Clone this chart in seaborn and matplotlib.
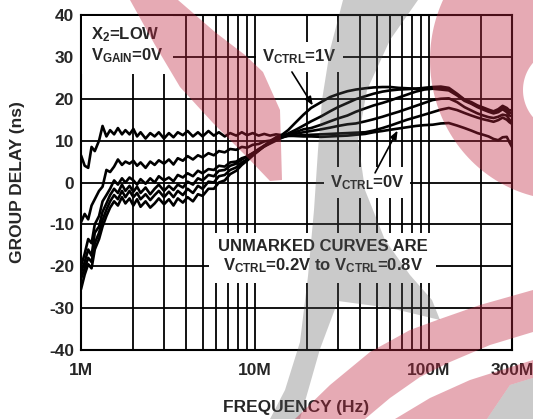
import numpy as np
import pandas as pd
import matplotlib
matplotlib.use("Agg")
import matplotlib.pyplot as plt
import seaborn as sns
from matplotlib.patches import Polygon, PathPatch
from matplotlib.path import Path
from matplotlib.ticker import LogLocator, FixedLocator, NullFormatter

# ---------------- data ----------------
freq_mhz = [1.0, 1.05, 1.1, 1.15, 1.2, 1.27, 1.33, 1.4, 1.47, 1.55,
            1.63, 1.72, 1.8, 1.9, 2.0, 2.1, 2.2, 2.35, 2.5, 2.65,
            2.8, 3.0, 3.2, 3.4, 3.6, 3.85, 4.1, 4.4, 4.7, 5.0,
            5.4, 5.8, 6.2, 6.7, 7.2, 7.8, 8.4, 9.0, 9.7, 10.5,
            11.3, 12.2, 13.2, 14.3, 15.5, 17, 19, 21, 24, 27,
            30, 34, 38, 43, 48, 54, 60, 67, 75, 84,
            94, 105, 117, 130, 145, 160, 175, 190, 205, 220,
            235, 250, 265, 280, 290, 300]

delay_vctrl_0v0 = [6.5, 4.0, 3.5, 8.5, 7.5, 10.0, 13.5, 11.0, 12.5, 11.5,
                   13.0, 11.5, 12.5, 11.5, 12.8, 11.0, 12.0, 10.5, 11.8, 11.0,
                   12.0, 10.5, 11.8, 10.8, 12.0, 11.3, 12.3, 11.0, 12.0, 11.0,
                   12.3, 11.2, 12.0, 11.0, 11.8, 11.2, 12.0, 11.3, 11.8, 11.2,
                   11.6, 11.2, 11.5, 11.3, 11.2, 11.1, 11.0, 11.0, 10.9, 11.0,
                   11.1, 11.2, 11.4, 11.6, 12.0, 12.3, 12.6, 12.9, 13.2, 13.5,
                   13.7, 13.8, 14.1, 14.2, 13.6, 13.0, 12.4, 11.8, 11.4, 11.0,
                   10.4, 10.1, 10.8, 10.9, 9.6, 8.5]

delay_vctrl_0v2 = [-9.5, -7.5, -8.8, -5.5, -4.0, -2.0, -1.0, 3.0, 2.5, 3.8,
                   5.5, 4.2, 5.0, 4.5, 5.2, 4.0, 4.8, 3.5, 5.0, 4.2,
                   5.3, 4.5, 5.5, 4.3, 5.8, 5.2, 6.3, 5.5, 6.5, 6.0,
                   7.0, 6.5, 7.5, 7.2, 8.0, 7.8, 8.5, 8.3, 9.0, 9.2,
                   9.8, 10.0, 10.5, 10.8, 11.1, 11.2, 11.3, 11.4, 11.5, 11.6,
                   11.7, 11.8, 11.9, 12.0, 12.4, 13.0, 13.6, 14.3, 15.0, 15.6,
                   16.2, 16.8, 17.4, 17.8, 17.3, 16.6, 16.0, 15.5, 15.1, 14.8,
                   14.5, 14.9, 15.5, 15.0, 14.4, 14.0]

delay_vctrl_0v4 = [-20.0, -17.0, -13.5, -14.5, -10.0, -8.0, -4.5, -3.0, -1.5, 0.5,
                   -0.5, 1.0, 0.0, 1.2, 0.5, -0.5, 0.8, -0.3, 1.0, 0.0,
                   1.5, 0.5, 1.2, 0.3, 1.8, 1.2, 2.2, 1.5, 2.8, 2.2,
                   3.2, 3.0, 4.0, 3.8, 4.8, 5.0, 5.8, 6.2, 7.0, 7.8,
                   8.6, 9.3, 10.0, 10.7, 11.3, 11.6, 12.0, 12.3, 12.7, 13.1,
                   13.5, 13.9, 14.1, 14.6, 15.1, 15.7, 16.3, 16.9, 17.6, 18.3,
                   19.0, 19.7, 20.0, 20.1, 19.2, 18.0, 17.2, 16.5, 16.0, 15.6,
                   15.4, 15.7, 16.2, 16.0, 15.0, 14.3]

delay_vctrl_0v6 = [-21.5, -19.0, -16.0, -17.5, -12.0, -10.5, -7.0, -5.0, -3.0, -1.5,
                   -2.5, -0.5, -2.0, -0.8, -2.2, -1.0, -2.5, -1.2, -2.8, -1.5,
                   -0.5, -2.0, -0.8, -1.8, -0.5, -1.2, 0.2, -0.5, 1.0, 0.5,
                   1.8, 1.5, 2.8, 3.0, 4.0, 4.5, 5.5, 6.2, 7.0, 8.0,
                   8.8, 9.6, 10.4, 11.0, 11.5, 12.0, 12.7, 13.0, 13.8, 14.6,
                   15.3, 16.0, 16.9, 17.7, 18.4, 19.0, 19.6, 20.3, 21.0, 21.7,
                   22.2, 22.4, 22.2, 22.0, 20.8, 19.5, 18.8, 18.0, 17.4, 16.9,
                   16.5, 16.8, 17.5, 16.8, 16.0, 15.8]

delay_vctrl_0v8 = [-23.0, -20.5, -18.0, -19.0, -14.5, -12.0, -9.0, -6.5, -4.5, -3.0,
                   -4.0, -2.0, -3.5, -2.0, -3.5, -2.5, -4.0, -2.8, -4.2, -3.0,
                   -2.0, -3.5, -2.2, -3.5, -2.0, -3.0, -1.5, -2.5, -0.8, -1.5,
                   0.2, 0.0, 1.5, 1.8, 3.0, 3.6, 4.8, 5.5, 6.6, 7.6,
                   8.6, 9.5, 10.4, 11.1, 11.7, 12.5, 13.6, 14.6, 15.8, 17.0,
                   18.0, 19.0, 19.9, 20.6, 21.2, 21.7, 22.0, 22.2, 22.3, 22.4,
                   22.5, 22.6, 22.5, 22.2, 21.0, 19.7, 19.0, 18.2, 17.7, 17.2,
                   16.8, 17.2, 18.0, 17.3, 16.7, 16.6]

delay_vctrl_1v0 = [-25.5, -22.0, -19.5, -20.5, -16.0, -13.5, -10.5, -8.0, -6.0, -4.5,
                   -5.5, -3.5, -5.0, -3.8, -5.5, -4.0, -5.8, -4.5, -6.0, -5.0,
                   -3.8, -5.2, -4.0, -5.5, -3.8, -4.8, -3.5, -4.5, -2.8, -3.2,
                   -1.5, -1.5, 0.0, 0.5, 2.0, 2.8, 4.2, 5.2, 6.4, 7.6,
                   8.8, 9.8, 10.8, 11.4, 12.5, 14.2, 16.2, 17.8, 19.2, 20.4,
                   21.1, 21.8, 22.2, 22.5, 22.7, 22.8, 22.8, 22.6, 22.5, 22.4,
                   22.6, 22.8, 22.9, 22.6, 21.2, 19.8, 19.2, 18.4, 17.9, 17.4,
                   17.0, 17.5, 18.3, 17.8, 17.2, 17.3]

vctrl_levels = ["0V", "0.2V", "0.4V", "0.6V", "0.8V", "1V"]
x_tick_values = [1e6, 1e7, 1e8, 3e8]
x_tick_labels = ["1M", "10M", "100M", "300M"]
y_tick_values = [-40, -30, -20, -10, 0, 10, 20, 30, 40]

series = [delay_vctrl_0v0, delay_vctrl_0v2, delay_vctrl_0v4,
          delay_vctrl_0v6, delay_vctrl_0v8, delay_vctrl_1v0]
df = pd.concat(
    [pd.DataFrame({"freq": np.array(freq_mhz) * 1e6, "delay": vals, "vctrl": lvl})
     for lvl, vals in zip(vctrl_levels, series)],
    ignore_index=True)

# ---------------- style ----------------
sns.set_style("white")
plt.rcParams["font.family"] = ["Liberation Sans", "DejaVu Sans"]
plt.rcParams["font.weight"] = "bold"
plt.rcParams["mathtext.fontset"] = "custom"
plt.rcParams["mathtext.rm"] = "Liberation Sans:bold"
plt.rcParams["mathtext.it"] = "Liberation Sans:bold"
plt.rcParams["mathtext.bf"] = "Liberation Sans:bold"
plt.rcParams["mathtext.default"] = "rm"

W, H = 533, 419
fig = plt.figure(figsize=(W / 100, H / 100), dpi=100)
ax = fig.add_axes([81 / W, 1 - 350 / H, 431 / W, 335 / H])

sns.lineplot(data=df, x="freq", y="delay", hue="vctrl", hue_order=vctrl_levels,
             palette=["black"] * len(vctrl_levels), estimator=None, sort=False,
             linewidth=1.9, legend=False, ax=ax, zorder=3)

ax.set_xscale("log")
ax.set_xlim(1e6, 3e8)
ax.set_ylim(-40, 40)
ax.xaxis.set_major_locator(FixedLocator(x_tick_values))
ax.set_xticklabels(x_tick_labels)
ax.xaxis.set_minor_locator(LogLocator(base=10, subs=np.arange(2, 10)))
ax.xaxis.set_minor_formatter(NullFormatter())
ax.set_yticks(y_tick_values)
ax.set_yticklabels([str(v) for v in y_tick_values])

ax.set_axisbelow(True)
ax.grid(which="major", axis="both", color="black", linewidth=1.3)
ax.grid(which="minor", axis="x", color="black", linewidth=1.3)
for s in ax.spines.values():
    s.set_color("black")
    s.set_linewidth(1.5)

ax.tick_params(axis="both", which="both", length=0, labelsize=12.5)
ax.tick_params(axis="x", pad=9)
ax.tick_params(axis="y", pad=5)
for lab in ax.get_xticklabels() + ax.get_yticklabels():
    lab.set_fontweight("bold")

ax.set_xlabel("FREQUENCY (Hz)", fontsize=12.5, fontweight="bold")
ax.set_ylabel("GROUP DELAY (ns)", fontsize=12.5, fontweight="bold")
ax.xaxis.set_label_coords(0.5, -0.148)
ax.yaxis.set_label_coords(-0.13, 0.5)

# ---------------- annotations ----------------
box = dict(facecolor="white", edgecolor="none", boxstyle="square,pad=0.35")
tkw = dict(fontsize=12, fontweight="bold", zorder=6)

ax.text(1.14e6, 32.8, "X$_2$=LOW\nV$_{GAIN}$=0V", ha="left", va="center",
        linespacing=1.15, bbox=dict(facecolor="white", edgecolor="none",
                                    boxstyle="square,pad=0.55"), **tkw)
ax.text(1.1e7, 30, "V$_{CTRL}$=1V", ha="left", va="center", bbox=box, **tkw)
ax.text(4.4e7, 0, "V$_{CTRL}$=0V", ha="center", va="center", bbox=box, **tkw)
ax.text(2.45e7, -17.8, "UNMARKED CURVES ARE\nV$_{CTRL}$=0.2V to V$_{CTRL}$=0.8V",
        ha="center", va="center", multialignment="center", linespacing=1.1,
        bbox=dict(facecolor="white", edgecolor="none", boxstyle="square,pad=0.5"),
        **tkw)

akw = dict(arrowstyle="-|>,head_length=0.5,head_width=0.2", color="black",
           lw=1.2, shrinkA=0, shrinkB=0)
ax.annotate("", xy=(2.15e7, 18.4), xytext=(1.63e7, 26.4), arrowprops=akw, zorder=6)
ax.annotate("", xy=(6.6e7, 12.4), xytext=(4.9e7, 2.3), arrowprops=akw, zorder=6)

# ---------------- background logo overlay ----------------
def fig_pts(pts):
    return [(x / W, 1 - y / H) for x, y in pts]

RED = "#c02640"
GRAY = "#555555"

band_top = [(130, 0), (178, 0), (215, 32), (245, 55), (263, 72), (280, 110),
            (282, 180), (270, 181), (247, 157), (213, 123), (180, 87), (155, 45)]
swoosh = [(343, 0), (330, 50), (322, 100), (318, 150), (314, 210), (308, 276),
          (300, 342), (285, 390), (270, 419), (300, 419), (320, 349), (338, 301),
          (390, 308), (440, 320), (432, 300), (410, 275), (385, 240), (365, 190),
          (358, 140), (367, 90), (390, 40), (418, 0)]
band_low = [(295, 419), (330, 385), (370, 352), (410, 330), (440, 319),
            (480, 305), (533, 290), (533, 332), (490, 345), (450, 362),
            (420, 377), (390, 398), (365, 419)]
band_low2 = [(395, 419), (430, 398), (470, 380), (533, 360), (533, 378),
             (510, 385), (487, 419)]
corner = [(487, 419), (510, 385), (533, 378), (533, 419)]

for pts, col, a in [(band_top, RED, 0.39), (swoosh, GRAY, 0.31),
                    (band_low, RED, 0.39), (band_low2, RED, 0.39),
                    (corner, GRAY, 0.31)]:
    fig.add_artist(Polygon(fig_pts(pts), closed=True, transform=fig.transFigure,
                           facecolor=col, edgecolor="none", alpha=a, zorder=20))

# ring on the upper right
t = np.linspace(0, 2 * np.pi, 200)
outer = np.column_stack([565 + 135 * np.cos(t), 60 + 140 * np.sin(t)])
inner = np.column_stack([565 + 42 * np.cos(t[::-1]), 90 + 42 * np.sin(t[::-1])])
verts = np.vstack([fig_pts(outer), fig_pts(inner)])
codes = ([Path.MOVETO] + [Path.LINETO] * (len(outer) - 2) + [Path.CLOSEPOLY]) * 2
fig.add_artist(PathPatch(Path(verts, codes), transform=fig.transFigure,
                         facecolor=RED, edgecolor="none", alpha=0.39, zorder=20))

fig.savefig("out.png", dpi=100)
